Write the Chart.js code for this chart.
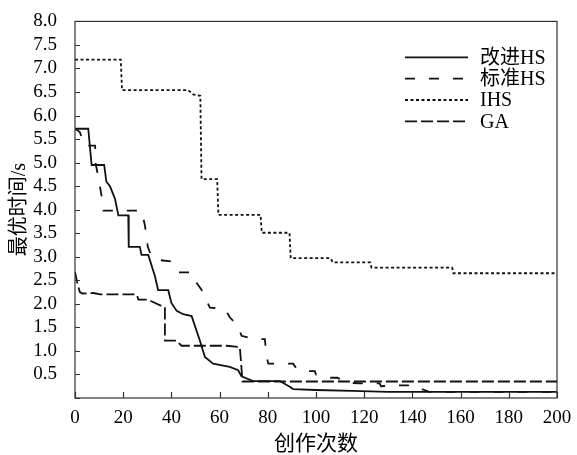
<!DOCTYPE html>
<html>
<head>
<meta charset="utf-8">
<title>最优时间</title>
<script src="https://cdn.jsdelivr.net/npm/chart.js@4.4.1/dist/chart.umd.min.js"></script>
<style>
    body { margin: 0; background: #fff; }
    canvas { display: block; }
</style>
</head>
<body>
<canvas id="optimalTimeChart" width="577" height="455"></canvas>
<script>
// values (x = 创作次数, y = 最优时间/s)
const improvedX = [0, 5.5, 6.9, 12.1, 13, 14.5, 16.6, 18, 22.1, 22.3, 26.9, 27.6, 30.4, 33.2, 34.5, 38.7, 40, 42.2, 44.9, 48.4, 51.8, 53.9, 57.3, 64.2, 67.7, 69.1, 73.9, 85, 89.1, 90.5, 100, 115, 130, 200];
const improvedY = [5.72, 5.72, 4.95, 4.95, 4.6, 4.5, 4.23, 3.88, 3.88, 3.21, 3.21, 3.04, 3.04, 2.58, 2.29, 2.29, 2.02, 1.85, 1.78, 1.74, 1.22, 0.87, 0.73, 0.66, 0.59, 0.46, 0.36, 0.36, 0.24, 0.19, 0.17, 0.15, 0.13, 0.13];

const standardX = [0, 2, 3, 4, 8.3, 8.5, 8.6, 9.3, 10, 10.5, 11, 11.7, 27.6, 29, 29.5, 30.2, 31.8, 35, 40, 40.5, 43, 48.4, 50.5, 52.5, 54.6, 56, 62.2, 64.3, 67.7, 69.1, 74.6, 78.8, 79.4, 80.2, 90.5, 92, 95.3, 99.5, 100, 104, 109, 112, 118, 126.4, 127, 134, 138.2, 139, 144.4, 147, 200];
const standardY = [5.72, 5.65, 5.5, 5.36, 5.36, 5.25, 4.97, 4.79, 4.6, 4.45, 4.3, 3.98, 3.98, 3.67, 3.49, 3.21, 3.0, 2.93, 2.9, 2.85, 2.67, 2.67, 2.44, 2.3, 2.06, 1.92, 1.89, 1.71, 1.53, 1.32, 1.25, 1.25, 0.9, 0.73, 0.73, 0.62, 0.57, 0.57, 0.5, 0.43, 0.43, 0.33, 0.31, 0.31, 0.25, 0.27, 0.27, 0.22, 0.18, 0.13, 0.13];

const ihsX = [0, 19, 19.5, 47, 49, 52, 52.5, 59, 59.5, 77, 77.5, 89, 89.5, 106, 107, 122.5, 123, 156.5, 157, 200];
const ihsY = [7.19, 7.19, 6.54, 6.54, 6.45, 6.42, 4.65, 4.65, 3.89, 3.89, 3.51, 3.51, 2.97, 2.97, 2.88, 2.88, 2.77, 2.77, 2.65, 2.65];

const gaX = [0, 1, 2, 3, 7.7, 10.4, 25.6, 26.3, 30.4, 31.5, 37.3, 37.3, 42, 44.2, 62.9, 68.4, 69.5, 200];
const gaY = [2.68, 2.44, 2.25, 2.22, 2.23, 2.2, 2.2, 2.09, 2.09, 2.06, 1.92, 1.22, 1.22, 1.11, 1.11, 1.08, 0.35, 0.35];

const seriesLabels = ["改进HS", "标准HS", "IHS", "GA"];

const serif = "'Liberation Serif', 'Noto Sans CJK SC', serif";

function toPoints(xs, ys) {
    return xs.map((x, i) => ({ x: x, y: ys[i] }));
}

// tick marks pointing into the plot, plus the closed frame
const frameTicks = {
    id: "frameTicks",
    afterDraw(chart) {
        const { ctx, chartArea: a, scales } = chart;
        ctx.save();
        ctx.strokeStyle = "#333";
        ctx.lineWidth = 1.2;
        ctx.strokeRect(a.left, a.top, a.right - a.left, a.bottom - a.top);
        ctx.beginPath();
        scales.y.ticks.forEach(t => {
            const py = Math.round(scales.y.getPixelForValue(t.value)) + 0.5;
            ctx.moveTo(a.left, py);
            ctx.lineTo(a.left + 5, py);
        });
        scales.x.ticks.forEach(t => {
            const px = Math.round(scales.x.getPixelForValue(t.value)) + 0.5;
            ctx.moveTo(px, a.bottom);
            ctx.lineTo(px, a.bottom - 6);
        });
        ctx.stroke();
        ctx.restore();
    }
};

// legend in the upper right of the plot
const innerLegend = {
    id: "innerLegend",
    afterDraw(chart) {
        const { ctx, chartArea: a } = chart;
        const lineStart = a.right - 152;
        const lineEnd = a.right - 89;
        const textX = a.right - 77;
        ctx.save();
        ctx.font = "20px " + serif;
        ctx.textBaseline = "middle";
        ctx.fillStyle = "#000";
        chart.data.datasets.forEach((ds, i) => {
            const y = a.top + 36 + i * 21.3;
            ctx.beginPath();
            ctx.setLineDash(ds.borderDash || []);
            ctx.lineWidth = ds.borderWidth;
            ctx.strokeStyle = ds.borderColor;
            ctx.moveTo(lineStart, y);
            ctx.lineTo(lineEnd, y);
            ctx.stroke();
            ctx.setLineDash([]);
            ctx.fillText(ds.label, textX, y + 1);
        });
        ctx.restore();
    }
};

new Chart(document.getElementById("optimalTimeChart"), {
    type: "line",
    data: {
        datasets: [
            {
                label: seriesLabels[0],
                data: toPoints(improvedX, improvedY),
                borderColor: "#111",
                borderWidth: 1.8,
                borderDash: []
            },
            {
                label: seriesLabels[1],
                data: toPoints(standardX, standardY),
                borderColor: "#111",
                borderWidth: 1.8,
                borderDash: [10, 14]
            },
            {
                label: seriesLabels[2],
                data: toPoints(ihsX, ihsY),
                borderColor: "#111",
                borderWidth: 1.8,
                borderDash: [3, 2.5]
            },
            {
                label: seriesLabels[3],
                data: toPoints(gaX, gaY),
                borderColor: "#111",
                borderWidth: 1.8,
                borderDash: [12, 4]
            }
        ]
    },
    options: {
        responsive: false,
        animation: false,
        devicePixelRatio: 1,
        layout: {
            padding: { top: 17, right: 20, left: 0, bottom: 0 }
        },
        elements: {
            point: { radius: 0 },
            line: { tension: 0, fill: false }
        },
        plugins: {
            legend: { display: false },
            tooltip: { enabled: false }
        },
        scales: {
            x: {
                type: "linear",
                min: 0,
                max: 200,
                grid: { display: false },
                border: { display: false },
                ticks: {
                    stepSize: 20,
                    padding: 1,
                    color: "#000",
                    maxRotation: 0,
                    autoSkip: false,
                    font: { family: serif, size: 19 }
                },
                title: {
                    display: true,
                    text: "创作次数",
                    color: "#000",
                    font: { family: serif, size: 21, lineHeight: 1 },
                    padding: { top: 0, bottom: 0 }
                },
                afterFit(scale) { scale.height = 57; }
            },
            y: {
                min: 0,
                max: 8,
                grid: { display: false },
                border: { display: false },
                ticks: {
                    stepSize: 0.5,
                    padding: 10,
                    color: "#000",
                    autoSkip: false,
                    font: { family: serif, size: 19 },
                    callback: v => (v === 0 ? "" : v.toFixed(1))
                },
                title: {
                    display: true,
                    text: "最优时间/s",
                    color: "#000",
                    font: { family: serif, size: 20 },
                    padding: { top: 8, bottom: 0 }
                },
                afterFit(scale) { scale.width = 75; }
            }
        }
    },
    plugins: [frameTicks, innerLegend]
});
</script>
</body>
</html>
